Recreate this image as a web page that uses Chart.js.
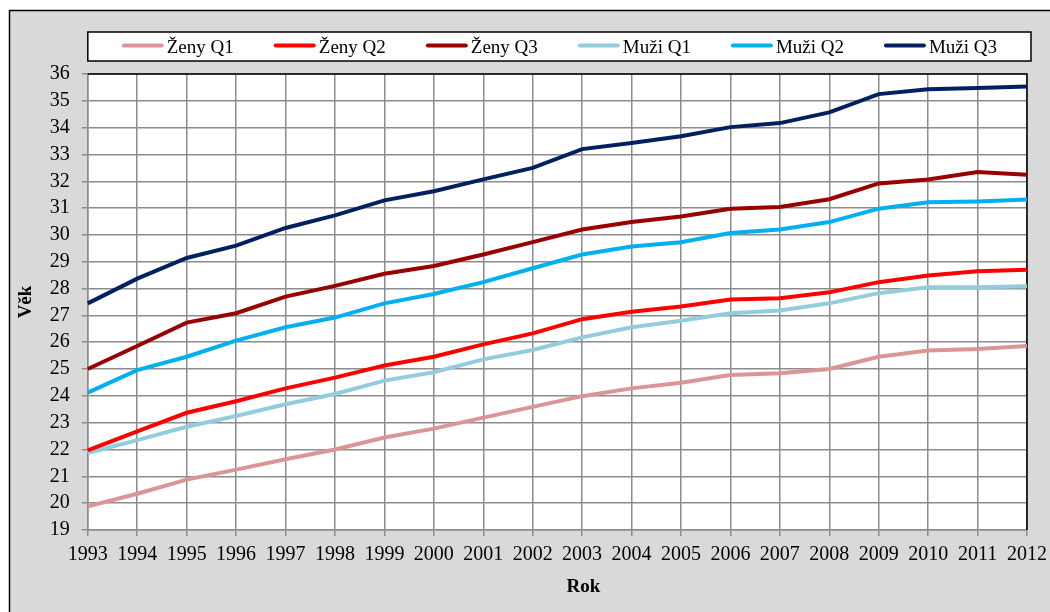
<!DOCTYPE html>
<html><head><meta charset="utf-8">
<script src="https://cdn.jsdelivr.net/npm/chart.js@4"></script>
<style>html,body{margin:0;padding:0;background:#fff;} canvas{display:block}</style>
</head><body>
<canvas id="c" width="1050" height="612"></canvas>
<script>
const years = ['1993','1994','1995','1996','1997','1998','1999','2000','2001','2002','2003','2004','2005','2006','2007','2008','2009','2010','2011','2012'];
const seriesNames = ['Ženy Q1','Ženy Q2','Ženy Q3','Muži Q1','Muži Q2','Muži Q3'];
const zenyQ1 = [19.88,20.35,20.88,21.25,21.64,22.0,22.45,22.78,23.19,23.59,23.99,24.28,24.49,24.78,24.84,25.0,25.46,25.69,25.75,25.86];
const zenyQ2 = [21.97,22.68,23.37,23.8,24.28,24.68,25.13,25.46,25.92,26.33,26.86,27.14,27.33,27.59,27.64,27.86,28.24,28.49,28.65,28.7];
const zenyQ3 = [25.0,25.86,26.73,27.08,27.7,28.1,28.55,28.84,29.27,29.73,30.2,30.48,30.69,30.98,31.04,31.33,31.92,32.07,32.35,32.24];
const muziQ1 = [21.87,22.35,22.85,23.25,23.69,24.07,24.57,24.88,25.36,25.71,26.18,26.56,26.8,27.08,27.18,27.45,27.83,28.05,28.05,28.09];
const muziQ2 = [24.12,24.96,25.46,26.06,26.56,26.92,27.45,27.8,28.24,28.76,29.27,29.57,29.73,30.07,30.2,30.48,30.98,31.22,31.25,31.32];
const muziQ3 = [27.45,28.37,29.14,29.6,30.26,30.73,31.29,31.63,32.07,32.5,33.2,33.43,33.68,34.02,34.17,34.57,35.25,35.43,35.48,35.53];
const colors = ['#d99694','#ff0000','#990000','#93cddd','#00b0f0','#002060'];
const yTitle = 'Věk';
const xTitle = 'Rok';

const FONT = "'Liberation Serif', 'Times New Roman', serif";
const allSeries = [zenyQ1, zenyQ2, zenyQ3, muziQ1, muziQ2, muziQ3];

const deco = {
  id: 'deco',
  beforeDraw(chart) {
    const {ctx, chartArea: a} = chart;
    ctx.save();
    ctx.fillStyle = '#fff';
    ctx.fillRect(0, 0, chart.width, chart.height);
    ctx.fillStyle = '#d9d9d9';
    ctx.fillRect(9, 10, chart.width, chart.height);
    ctx.strokeStyle = '#000';
    ctx.lineWidth = 1.5;
    ctx.strokeRect(9.5, 10.5, chart.width + 20, chart.height + 20);
    ctx.fillStyle = '#fff';
    ctx.fillRect(a.left, a.top, a.width, a.height);
    // legend frame
    ctx.fillRect(a.left, 32, a.width + 4, 29);
    ctx.strokeRect(a.left, 32, a.width + 4, 29);
    ctx.restore();
  },
  beforeDatasetsDraw(chart) {
    const {ctx, chartArea: a} = chart;
    ctx.save();
    ctx.strokeStyle = '#000';
    ctx.lineWidth = 1.5;
    ctx.beginPath();
    ctx.moveTo(a.left, a.top);
    ctx.lineTo(a.right, a.top);
    ctx.lineTo(a.right, a.bottom);
    ctx.stroke();
    ctx.restore();
  },
  afterDraw(chart) {
    const {ctx, chartArea: a} = chart;
    ctx.save();
    // legend
    ctx.font = '19px ' + FONT;
    const ds = chart.data.datasets;
    const lineLen = 42, gapText = 3, gapItem = 40;
    const widths = ds.map(d => lineLen + gapText + ctx.measureText(d.label).width);
    const total = widths.reduce((s, w) => s + w, 0) + gapItem * (ds.length - 1);
    let x = a.left + (a.width + 4 - total) / 2;
    ds.forEach((d, i) => {
      ctx.strokeStyle = d.borderColor;
      ctx.lineWidth = 4;
      ctx.lineCap = 'round';
      ctx.beginPath();
      ctx.moveTo(x + 2, 45.5);
      ctx.lineTo(x + lineLen - 2, 45.5);
      ctx.stroke();
      ctx.fillStyle = '#000';
      ctx.textBaseline = 'alphabetic';
      ctx.textAlign = 'left';
      ctx.fillText(d.label, x + lineLen + gapText, 53);
      x += widths[i] + gapItem;
    });
    // x axis title
    ctx.font = 'bold 19px ' + FONT;
    ctx.textAlign = 'center';
    ctx.textBaseline = 'middle';
    ctx.fillText(xTitle, (a.left + a.right) / 2 + 26, 587);
    ctx.restore();
  }
};

new Chart(document.getElementById('c'), {
  type: 'line',
  data: {
    labels: years,
    datasets: allSeries.map((s, i) => ({
      label: seriesNames[i],
      data: s,
      borderColor: colors[i],
      backgroundColor: colors[i],
      borderWidth: 4,
      pointRadius: 0,
      tension: 0,
      fill: false
    }))
  },
  options: {
    responsive: false,
    animation: false,
    layout: { padding: { left: 12, right: 23, top: 74, bottom: 38 } },
    plugins: { legend: { display: false }, tooltip: { enabled: false } },
    scales: {
      x: {
        type: 'category',
        offset: false,
        afterFit(scale) { scale.paddingRight = 23; },
        grid: { color: '#8c8c8c', lineWidth: 1.5, tickLength: 6, tickColor: '#8c8c8c', drawTicks: true },
        border: { color: '#8c8c8c', width: 1.5 },
        ticks: { color: '#000', font: { family: FONT, size: 20 }, padding: 7, maxRotation: 0, autoSkip: false }
      },
      y: {
        min: 19, max: 36,
        grid: { color: '#8c8c8c', lineWidth: 1.5, tickLength: 6, tickColor: '#8c8c8c' },
        border: { color: '#8c8c8c', width: 1.5 },
        ticks: { stepSize: 1, autoSkip: false, color: '#000', font: { family: FONT, size: 20 }, padding: 12 },
        title: { display: true, text: yTitle, color: '#000', font: { family: FONT, size: 19, weight: 'bold' }, padding: { top: 3, bottom: 0 } }
      }
    }
  },
  plugins: [deco]
});
</script>
</body></html>
